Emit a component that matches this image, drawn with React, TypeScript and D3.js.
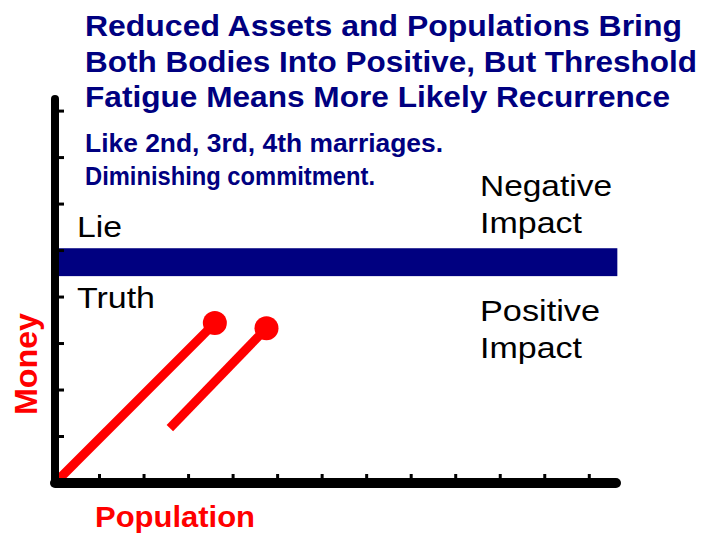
import React from 'react';
import * as d3 from 'd3';

const W = 713;
const H = 533;

// tick positions along each axis, in chart units
const xTicks = [1, 2, 3, 4, 5, 6, 7, 8, 9, 10, 11, 12];
const yTicks = [1, 2, 3, 4, 5, 6, 7, 8];
const xMax = 12.6;
const yMax = 8.26;

// the lie / truth separator (money units)
const bandLow = 4.45;
const bandHigh = 5.05;
const bandEnd = 12.63;

// the two cycles: [population, money]
const firstCycle: [number, number][] = [[0, 0], [3.59, 3.44]];
const secondCycle: [number, number][] = [[2.58, 1.18], [4.75, 3.33]];
const cycles = [firstCycle, secondCycle];

const titleLines = [
  'Reduced Assets and Populations Bring',
  'Both Bodies Into Positive, But Threshold',
  'Fatigue Means More Likely Recurrence',
];
const titleWidths = [597, 612, 585];

const noteLines = ['Like 2nd, 3rd, 4th marriages.', 'Diminishing commitment.'];
const noteWidths = [358, 290];

const FONT = '"Liberation Sans", Arial, sans-serif';
const NAVY = '#000080';
const RED = '#ff0000';

const App = () => {
  const x = d3.scaleLinear().domain([0, xMax]).range([55, 616]);
  const y = d3.scaleLinear().domain([0, yMax]).range([483, 99]);

  const line = d3.line<[number, number]>()
    .x(d => x(d[0]))
    .y(d => y(d[1]));

  const axisPath = d3.line<[number, number]>()
    .x(d => x(d[0]))
    .y(d => y(d[1]));

  return (
    <svg
      width={W}
      height={H}
      style={{ position: 'absolute', left: 0, top: 0, background: '#fff' }}
      fontFamily={FONT}
    >
      <rect width={W} height={H} fill="#fff" />

      {/* title */}
      {titleLines.map((t, i) => (
        <text
          key={t}
          x={85}
          y={36 + i * 35.5}
          fill={NAVY}
          fontWeight="bold"
          fontSize={30}
          textLength={titleWidths[i]}
          lengthAdjust="spacingAndGlyphs"
        >
          {t}
        </text>
      ))}

      {/* note */}
      {noteLines.map((t, i) => (
        <text
          key={t}
          x={85}
          y={152 + i * 33}
          fill={NAVY}
          fontWeight="bold"
          fontSize={25}
          fontFamily={'"Liberation Sans Narrow", "Liberation Sans", Arial, sans-serif'}
          textLength={noteWidths[i]}
          lengthAdjust="spacingAndGlyphs"
        >
          {t}
        </text>
      ))}

      {/* separator band */}
      <rect
        x={x(0)}
        y={y(bandHigh)}
        width={x(bandEnd) - x(0)}
        height={y(bandLow) - y(bandHigh)}
        fill={NAVY}
      />

      {/* cycles */}
      {cycles.map((c, i) => (
        <g key={i}>
          <path d={line(c) || ''} stroke={RED} strokeWidth={9} fill="none" />
          <circle cx={x(c[1][0])} cy={y(c[1][1])} r={12} fill={RED} />
        </g>
      ))}

      {/* axes */}
      <path
        d={axisPath([[0, yMax], [0, 0]]) || ''}
        stroke="#000"
        strokeWidth={8}
        strokeLinecap="round"
        fill="none"
      />
      <path
        d={axisPath([[0, 0], [xMax, 0]]) || ''}
        stroke="#000"
        strokeWidth={10}
        strokeLinecap="round"
        fill="none"
      />
      {yTicks.map(t => (
        <line key={t} x1={x(0)} x2={x(0) + 9} y1={y(t)} y2={y(t)} stroke="#000" strokeWidth={3} />
      ))}
      {xTicks.map(t => (
        <line key={t} x1={x(t)} x2={x(t)} y1={y(0)} y2={y(0) - 9} stroke="#000" strokeWidth={3} />
      ))}

      {/* zone labels */}
      <text x={77} y={237} fontSize={30} fill="#000" textLength={45} lengthAdjust="spacingAndGlyphs">Lie</text>
      <text x={77} y={308} fontSize={30} fill="#000" textLength={78} lengthAdjust="spacingAndGlyphs">Truth</text>
      <text x={480} y={196} fontSize={30} fill="#000" textLength={132} lengthAdjust="spacingAndGlyphs">Negative</text>
      <text x={480} y={233} fontSize={30} fill="#000" textLength={102} lengthAdjust="spacingAndGlyphs">Impact</text>
      <text x={480} y={321} fontSize={30} fill="#000" textLength={120} lengthAdjust="spacingAndGlyphs">Positive</text>
      <text x={480} y={358} fontSize={30} fill="#000" textLength={102} lengthAdjust="spacingAndGlyphs">Impact</text>

      {/* axis titles */}
      <text x={95} y={527} fontSize={29} fontWeight="bold" fill={RED} textLength={160} lengthAdjust="spacingAndGlyphs">
        Population
      </text>
      <text
        transform="translate(37,364) rotate(-90)"
        textAnchor="middle"
        fontSize={31}
        fontWeight="bold"
        fill={RED}
        textLength={102}
        lengthAdjust="spacingAndGlyphs"
      >
        Money
      </text>
    </svg>
  );
};

export default App;
